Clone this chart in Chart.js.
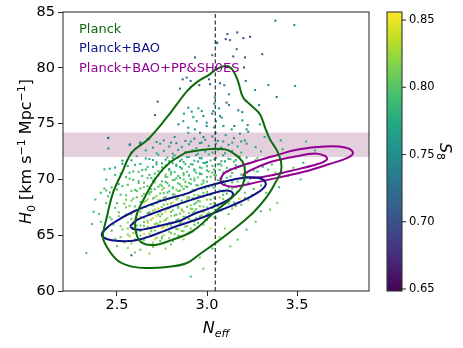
<!DOCTYPE html>
<html>
<head>
<meta charset="utf-8">
<script src="https://cdn.jsdelivr.net/npm/chart.js@4.4.1/dist/chart.umd.min.js"></script>
<style>
  html, body { margin: 0; padding: 0; background: #fff; }
</style>
</head>
<body>
<canvas id="neff-h0-chart" width="463" height="348"></canvas>
<script>
// Axis limits and ticks
const neffRange = [2.2, 3.9];
const h0Range = [60, 85];
const s8Range = [0.6485, 0.856];
const neffTicks = [2.5, 3.0, 3.5];
const h0Ticks = [60, 65, 70, 75, 80, 85];
const s8Ticks = [0.65, 0.70, 0.75, 0.80, 0.85];

// Reference lines
const neffStandard = 3.046;
const shoesBand = [72.0, 74.2];

const legendLabels = ['Planck', 'Planck+BAO', 'Planck+BAO+PP&SH0ES'];

// Contours [Neff, H0]
const planck95 = [[3.044,79.80],[3.10,80.16],[3.139,79.89],[3.172,78.81],[3.20,77.37],[3.25,76.56],[3.294,75.84],[3.322,74.67],[3.35,73.59],[3.389,72.58],[3.411,71.60],[3.411,70.70],[3.383,69.80],[3.333,68.45],[3.256,67.01],[3.144,65.48],[3.056,64.40],[2.961,63.32],[2.889,62.51],[2.778,62.15],[2.667,62.06],[2.572,62.23],[2.50,62.78],[2.444,63.95],[2.422,64.85],[2.444,66.65],[2.478,68.81],[2.528,70.61],[2.583,72.42],[2.672,73.59],[2.778,75.57],[2.833,76.74],[2.889,77.91],[2.944,78.72],[3.017,79.44],[3.044,79.80]];
const planck68 = [[2.883,72.41],[2.989,72.69],[3.10,72.69],[3.156,72.23],[3.20,71.51],[3.211,70.61],[3.194,69.35],[3.144,68.45],[3.044,67.10],[2.922,65.39],[2.806,64.58],[2.711,64.13],[2.639,64.31],[2.606,65.21],[2.606,66.65],[2.656,68.45],[2.722,70.26],[2.794,71.51],[2.883,72.41]];
const bao95 = [[2.415,65.2],[2.47,66.0],[2.59,67.1],[2.74,68.05],[2.89,68.75],[2.96,69.2],[3.05,69.6],[3.15,70.0],[3.24,70.2],[3.31,70.0],[3.325,69.45],[3.27,68.7],[3.18,67.95],[3.07,67.2],[2.96,66.5],[2.83,65.8],[2.70,65.0],[2.59,64.5],[2.47,64.55],[2.42,64.85],[2.415,65.2]];
const bao68 = [[2.572,65.8],[2.61,66.35],[2.70,66.95],[2.80,67.55],[2.90,68.1],[3.00,68.6],[3.08,68.95],[3.13,68.95],[3.145,68.6],[3.11,68.1],[3.02,67.45],[2.92,66.85],[2.85,66.3],[2.74,65.85],[2.64,65.5],[2.59,65.55],[2.572,65.8]];
const shoes95 = [[3.072,69.98],[3.10,70.61],[3.211,71.33],[3.361,72.05],[3.506,72.68],[3.656,72.95],[3.767,72.86],[3.811,72.41],[3.783,71.96],[3.672,71.33],[3.544,70.70],[3.394,70.16],[3.267,69.71],[3.156,69.35],[3.089,69.53],[3.072,69.98]];
const shoes68 = [[3.20,70.43],[3.25,70.88],[3.361,71.60],[3.489,72.05],[3.60,72.32],[3.655,72.1],[3.667,71.8],[3.62,71.4],[3.45,70.70],[3.322,70.25],[3.228,70.16],[3.20,70.43]];

// Chain samples [Neff, H0, S8]
const haloSamples = [[3.38,84.22,.73],[3.485,83.83,.75],[3.168,83.17,.70],[3.113,83.02,.71],[3.104,82.57,.70],[3.128,82.48,.72],[3.202,82.66,.70],[3.239,82.78,.69],[3.057,82.21,.72],[3.165,81.67,.72],[3.307,81.22,.71],[3.146,81.02,.71],[3.211,80.93,.70],[3.029,81.13,.73],[3.206,80.03,.70],[3.215,78.82,.74],[3.341,78.46,.75],[3.489,78.37,.77],[3.011,78.97,.72],[3.017,78.53,.71],[3.072,78.62,.72],[3.096,78.44,.72],[3.267,78.01,.75],[3.122,77.63,.75],[3.387,77.38,.73],[3.109,76.88,.72],[3.122,76.66,.74],[3.289,76.66,.75],[3.067,76.37,.75],[3.174,76.19,.74],[3.196,76.03,.74],[3.029,75.89,.73],[3.072,75.67,.75],[3.04,76.79,.74],[3.035,76.12,.75],[3.082,75.53,.76],[3.196,75.29,.75],[3.294,74.93,.77],[3.226,74.87,.76],[3.152,74.78,.74],[3.091,74.78,.75],[2.998,75.08,.74],[2.998,74.78,.75],[3.137,74.48,.76],[3.22,74.48,.75],[3.048,74.18,.74],[3.183,74.09,.76],[3.229,74.27,.75],[3.104,73.97,.76],[2.933,80.93,.72],[2.887,79.13,.72],[2.909,78.82,.71],[2.957,78.44,.70],[2.726,76.97,.71],[2.711,75.76,.72],[2.896,76.43,.75],[2.872,75.89,.76],[2.915,76.07,.75],[2.952,76.37,.76],[2.971,76.12,.75],[2.98,75.67,.74],[2.924,75.58,.76],[2.868,75.22,.76],[2.841,74.93,.74],[2.943,75.22,.76],[2.896,74.63,.75],[2.933,74.48,.76],[2.961,74.18,.74],[2.896,74.18,.77],[2.98,73.79,.75],[2.865,78.97,.72],[2.85,78.14,.73],[2.452,73.73,.73],[2.572,73.13,.74],[2.628,73.28,.74],[2.674,73.58,.75],[3.054,82.27,.72],[3.044,77.36,.74],[3.05,75.2,.75],[3.039,74.66,.76]];

const bandSamples = [[2.68,73.7,.75],[2.76,73.5,.76],[2.82,73.8,.75],[2.88,73.45,.76],[2.93,73.65,.74],[2.99,73.55,.76],[3.03,73.85,.75],[3.09,73.4,.77],[3.15,73.7,.75],[3.21,73.5,.76],
[2.72,73.35,.76],[2.80,73.3,.75],[2.91,73.4,.77],[2.96,73.25,.76],[3.06,73.45,.75],[3.14,73.3,.77],[3.19,73.4,.76],
[2.63,73.1,.75],[2.70,72.85,.76],[2.74,73.2,.77],[2.79,72.95,.76],[2.83,73.25,.75],[2.86,72.9,.77],[2.90,73.15,.76],[2.94,72.8,.78],[2.97,73.3,.75],[3.01,73.0,.77],[3.05,73.2,.76],[3.08,72.85,.77],[3.12,73.1,.76],[3.17,72.95,.78],[3.22,73.2,.76],[3.27,72.9,.77],
[2.58,72.4,.77],[2.66,72.6,.76],[2.72,72.35,.78],[2.76,72.55,.77],[2.81,72.3,.78],[2.84,72.65,.76],[2.88,72.45,.78],[2.92,72.6,.77],[2.95,72.3,.79],[2.99,72.5,.77],[3.03,72.4,.78],[3.06,72.65,.76],[3.10,72.35,.78],[3.14,72.55,.77],[3.19,72.4,.79],[3.30,72.5,.78],
[2.452,72.77,.74],[2.61,72.08,.78],[2.68,71.83,.77],[2.73,72.21,.78],[2.78,71.96,.79],[2.82,72.13,.77],[2.86,71.78,.78],[2.90,72.02,.79],[2.94,72.18,.78],[2.97,71.89,.77],[3.01,72.24,.79],[3.05,71.93,.78],[3.09,72.15,.77],[3.13,71.81,.79],[3.18,72.05,.78]];

const coreSamples = [[2.58,71.71,.765],[2.66,71.88,.77],[2.72,71.53,.78],[2.77,71.77,.77],[2.81,71.93,.765],[2.85,71.64,.78],[2.89,71.99,.77],[2.93,71.68,.78],[2.96,71.90,.765],[3.00,71.56,.77],[3.04,71.80,.78],[3.08,71.62,.77],[3.12,71.85,.765],[3.16,71.73,.78],[3.22,71.95,.77],
[2.53,71.68,.765],[2.63,71.39,.77],[2.70,71.74,.78],[2.75,71.43,.77],[2.79,71.65,.79],[2.83,71.31,.77],[2.87,71.55,.78],[2.91,71.37,.79],[2.95,71.60,.77],[2.98,71.48,.78],[3.02,71.70,.79],[3.06,71.35,.78],[3.10,71.62,.77],[3.15,71.58,.79],[3.20,71.33,.78],[3.27,71.71,.77],
[2.49,71.06,.77],[2.60,71.30,.78],[2.67,71.12,.79],[2.72,71.35,.78],[2.77,71.23,.77],[2.81,71.45,.79],[2.85,71.10,.78],[2.88,71.37,.795],[2.92,71.33,.78],[2.96,71.08,.79],[2.99,71.46,.77],[3.03,71.21,.79],[3.07,71.38,.78],[3.11,71.03,.795],[3.16,71.27,.78],[3.23,71.43,.79],[3.31,71.14,.78],
[2.56,71.20,.78],[2.64,70.85,.79],[2.70,71.12,.78],[2.75,71.08,.795],[2.79,70.83,.79],[2.83,71.21,.78],[2.86,70.96,.795],[2.90,71.13,.79],[2.93,70.78,.78],[2.97,71.02,.795],[3.00,71.18,.79],[3.04,70.89,.78],[3.08,71.24,.795],[3.13,70.93,.79],[3.18,71.15,.78],[3.26,70.81,.79],
[2.46,70.96,.77],[2.59,70.71,.79],[2.66,70.88,.78],[2.71,70.53,.795],[2.75,70.77,.79],[2.79,70.93,.78],[2.82,70.64,.795],[2.86,70.99,.79],[2.89,70.68,.80],[2.93,70.90,.79],[2.96,70.56,.795],[3.00,70.80,.78],[3.03,70.62,.795],[3.07,70.85,.79],[3.11,70.73,.80],[3.16,70.95,.79],[3.22,70.60,.795],[3.34,70.87,.79],
[2.52,70.52,.78],[2.62,70.68,.79],[2.68,70.39,.795],[2.73,70.74,.79],[2.77,70.43,.80],[2.80,70.65,.79],[2.84,70.31,.795],[2.87,70.55,.78],[2.90,70.37,.80],[2.94,70.60,.795],[2.97,70.48,.79],[3.01,70.70,.80],[3.05,70.35,.795],[3.09,70.62,.79],[3.14,70.58,.795],[3.20,70.33,.79],[3.28,70.71,.78],
[2.49,70.40,.79],[2.57,70.06,.795],[2.64,70.30,.79],[2.69,70.12,.80],[2.73,70.35,.795],[2.77,70.23,.79],[2.80,70.45,.80],[2.83,70.10,.795],[2.87,70.37,.81],[2.90,70.33,.79],[2.93,70.08,.80],[2.96,70.46,.795],[3.00,70.21,.79],[3.04,70.38,.80],[3.08,70.03,.795],[3.13,70.27,.79],[3.19,70.43,.80],[3.26,70.14,.795],
[2.44,69.98,.78],[2.55,70.20,.79],[2.62,69.85,.795],[2.67,70.12,.80],[2.71,70.08,.79],[2.75,69.83,.795],[2.78,70.21,.81],[2.82,69.96,.795],[2.85,70.13,.79],[2.88,69.78,.80],[2.91,70.02,.795],[2.95,70.18,.81],[2.98,69.89,.79],[3.02,70.24,.80],[3.06,69.93,.795],[3.11,70.15,.79],[3.17,69.81,.80],[3.24,70.05,.795],[3.32,69.87,.79],
[2.51,69.58,.79],[2.59,69.96,.795],[2.65,69.71,.80],[2.70,69.88,.795],[2.74,69.53,.81],[2.77,69.77,.795],[2.81,69.93,.80],[2.84,69.64,.79],[2.87,69.99,.80],[2.90,69.68,.81],[2.93,69.90,.795],[2.97,69.56,.80],[3.00,69.80,.795],[3.04,69.62,.81],[3.09,69.85,.80],[3.14,69.73,.795],[3.21,69.95,.80],
[2.47,69.28,.79],[2.56,69.52,.795],[2.62,69.68,.80],[2.67,69.39,.795],[2.71,69.74,.81],[2.75,69.43,.80],[2.78,69.65,.795],[2.81,69.31,.81],[2.85,69.55,.80],[2.88,69.37,.82],[2.91,69.60,.795],[2.94,69.48,.80],[2.98,69.70,.81],[3.01,69.35,.795],[3.05,69.62,.80],[3.10,69.58,.795],[3.16,69.33,.80],[3.23,69.71,.795],[3.30,69.46,.79],
[2.43,69.18,.79],[2.53,69.40,.795],[2.60,69.06,.80],[2.65,69.30,.81],[2.69,69.12,.80],[2.73,69.35,.795],[2.76,69.23,.81],[2.79,69.45,.80],[2.83,69.10,.82],[2.86,69.37,.80],[2.89,69.33,.795],[2.92,69.08,.81],[2.95,69.46,.80],[2.99,69.21,.795],[3.03,69.38,.81],[3.07,69.03,.80],[3.12,69.27,.795],[3.18,69.43,.80],[3.26,69.14,.795],
[2.50,69.10,.795],[2.58,68.98,.80],[2.63,69.20,.795],[2.68,68.85,.81],[2.71,69.12,.80],[2.75,69.08,.82],[2.78,68.83,.80],[2.81,69.21,.795],[2.84,68.96,.81],[2.87,69.13,.80],[2.90,68.78,.82],[2.93,69.02,.80],[2.97,69.18,.795],[3.00,68.89,.81],[3.04,69.24,.80],[3.09,68.93,.795],[3.14,69.15,.81],[3.21,68.81,.80],
[2.46,68.83,.79],[2.55,68.58,.80],[2.61,68.96,.795],[2.65,68.71,.81],[2.69,68.88,.80],[2.72,68.53,.82],[2.76,68.77,.80],[2.79,68.93,.795],[2.82,68.64,.81],[2.85,68.99,.80],[2.88,68.68,.82],[2.91,68.90,.80],[2.95,68.56,.81],[2.98,68.80,.795],[3.02,68.62,.81],[3.06,68.85,.80],[3.11,68.73,.795],[3.17,68.95,.81],[3.25,68.60,.80],
[2.52,68.63,.795],[2.59,68.28,.80],[2.64,68.52,.81],[2.68,68.68,.80],[2.71,68.39,.82],[2.74,68.74,.80],[2.77,68.43,.81],[2.81,68.65,.795],[2.84,68.31,.82],[2.87,68.55,.81],[2.90,68.37,.80],[2.93,68.60,.82],[2.96,68.48,.80],[3.00,68.70,.81],[3.04,68.35,.80],[3.09,68.62,.795],[3.14,68.58,.81],[3.21,68.33,.80],
[2.45,68.49,.795],[2.55,68.18,.81],[2.61,68.40,.80],[2.66,68.06,.82],[2.70,68.30,.80],[2.73,68.12,.81],[2.76,68.35,.80],[2.79,68.23,.82],[2.82,68.45,.81],[2.86,68.10,.80],[2.89,68.37,.82],[2.92,68.33,.81],[2.95,68.08,.80],[2.98,68.46,.81],[3.02,68.21,.80],[3.07,68.38,.82],[3.12,68.03,.80],[3.18,68.27,.81],
[2.50,67.87,.80],[2.58,68.10,.81],[2.63,67.98,.80],[2.67,68.20,.82],[2.71,67.85,.81],[2.74,68.12,.80],[2.77,68.08,.82],[2.80,67.83,.81],[2.83,68.21,.80],[2.86,67.96,.82],[2.89,68.13,.81],[2.93,67.78,.80],[2.96,68.02,.81],[3.00,68.18,.82],[3.04,67.89,.80],[3.09,68.24,.81],[3.15,67.93,.80],[3.23,68.15,.81]];

const lowerSamples = [[2.44,67.87,.795],[2.54,67.83,.81],[2.60,67.58,.80],[2.65,67.96,.82],[2.69,67.71,.81],[2.72,67.88,.80],[2.75,67.53,.82],[2.78,67.77,.81],[2.81,67.93,.84],[2.84,67.64,.80],[2.88,67.99,.81],[2.91,67.68,.82],[2.94,67.90,.80],[2.98,67.56,.81],[3.02,67.80,.80],[3.06,67.62,.82],[3.12,67.85,.81],[3.19,67.73,.80],
[2.49,67.46,.80],[2.57,67.63,.81],[2.62,67.28,.82],[2.66,67.52,.80],[2.70,67.68,.81],[2.73,67.39,.84],[2.76,67.74,.81],[2.79,67.43,.80],[2.83,67.65,.82],[2.86,67.31,.81],[2.89,67.55,.80],[2.92,67.37,.82],[2.96,67.60,.81],[3.00,67.48,.80],[3.04,67.70,.82],[3.09,67.35,.81],[3.16,67.62,.80],
[2.45,67.14,.80],[2.55,67.49,.81],[2.60,67.18,.82],[2.64,67.40,.81],[2.68,67.06,.80],[2.71,67.30,.82],[2.74,67.12,.81],[2.78,67.35,.84],[2.81,67.23,.81],[2.84,67.45,.80],[2.87,67.10,.82],[2.91,67.37,.81],[2.94,67.33,.80],[2.98,67.08,.82],[3.03,67.46,.81],[3.08,67.21,.80],[3.14,67.38,.81],
[2.51,67.05,.80],[2.58,66.87,.82],[2.63,67.10,.81],[2.67,66.98,.80],[2.70,67.20,.82],[2.73,66.85,.81],[2.77,67.12,.84],[2.80,67.08,.81],[2.83,66.83,.80],[2.86,67.21,.82],[2.90,66.96,.81],[2.93,67.13,.80],[2.97,66.78,.82],[3.01,67.02,.81],[3.06,67.18,.80],[3.12,66.89,.81],
[2.46,66.60,.80],[2.55,66.87,.81],[2.61,66.83,.82],[2.65,66.58,.81],[2.68,66.96,.80],[2.72,66.71,.84],[2.75,66.88,.81],[2.78,66.53,.82],[2.82,66.77,.80],[2.85,66.93,.81],[2.88,66.64,.82],[2.92,66.99,.81],[2.96,66.68,.80],[3.00,66.90,.82],[3.05,66.56,.81],
[2.51,66.71,.81],[2.58,66.46,.80],[2.63,66.63,.82],[2.67,66.28,.81],[2.70,66.52,.84],[2.74,66.68,.81],[2.77,66.39,.80],[2.80,66.74,.82],[2.84,66.43,.81],[2.87,66.65,.80],[2.91,66.31,.82],[2.94,66.55,.81],[2.99,66.37,.80],[3.04,66.60,.81],
[2.47,66.43,.80],[2.56,66.14,.82],[2.61,66.49,.81],[2.65,66.18,.80],[2.69,66.40,.82],[2.72,66.06,.81],[2.76,66.30,.84],[2.79,66.12,.81],[2.83,66.35,.80],[2.86,66.23,.82],[2.90,66.45,.81],[2.95,66.10,.80],[3.00,66.37,.82],
[2.52,65.81,.81],[2.59,66.05,.82],[2.63,65.87,.80],[2.67,66.10,.84],[2.71,65.98,.81],[2.74,66.20,.80],[2.78,65.85,.82],[2.81,66.12,.81],[2.85,66.08,.80],[2.89,65.83,.82],[2.93,66.21,.81],[2.98,65.96,.80],
[2.48,65.95,.80],[2.56,65.60,.82],[2.61,65.87,.81],[2.65,65.83,.80],[2.69,65.58,.82],[2.73,65.96,.81],[2.76,65.71,.84],[2.80,65.88,.80],[2.84,65.53,.82],[2.88,65.77,.81],[2.93,65.93,.80],
[2.53,65.52,.81],[2.59,65.68,.82],[2.63,65.39,.80],[2.67,65.74,.82],[2.71,65.43,.81],[2.75,65.65,.84],[2.79,65.31,.81],[2.83,65.55,.80],[2.87,65.37,.82],[2.91,65.60,.81],
[2.47,65.40,.80],[2.56,65.06,.82],[2.61,65.30,.81],[2.65,65.12,.84],[2.69,65.35,.81],[2.73,65.23,.80],[2.77,65.45,.82],[2.82,65.10,.81],[2.86,65.37,.80],[2.92,65.33,.82],
[2.52,64.83,.81],[2.59,65.21,.82],[2.63,64.96,.80],[2.68,65.13,.82],[2.72,64.78,.81],[2.76,65.02,.84],[2.80,65.18,.81],[2.85,64.89,.80],[2.90,65.24,.82],
[2.49,64.68,.81],[2.57,64.90,.82],[2.62,64.56,.81],[2.66,64.80,.80],[2.71,64.62,.84],[2.75,64.85,.81],[2.79,64.73,.82],[2.84,64.95,.80],
[2.54,64.35,.82],[2.60,64.62,.81],[2.65,64.58,.80],[2.70,64.33,.82],[2.75,64.71,.81],[2.81,64.46,.80],[2.87,64.63,.82],
[2.50,64.03,.81],[2.58,64.27,.82],[2.64,64.43,.81],[2.69,64.14,.84],[2.74,64.49,.80],[2.80,64.18,.81],
[2.56,63.85,.82],[2.63,63.70,.80],[2.70,63.95,.81],[2.77,63.80,.82],[2.60,63.45,.81],[2.68,63.35,.82],
[2.33,63.4,.80],[2.91,61.3,.80],[2.58,63.2,.70],[2.40,66.9,.80],[2.38,68.2,.79],[2.43,70.9,.78],[2.36,66.0,.79]];

const edgeSamples = [[3.39,67.9,.81],[3.30,67.15,.80],[3.35,67.3,.81],[3.17,64.6,.80],[3.10,65.6,.82],[3.18,68.3,.85],[3.02,65.6,.85],[3.27,66.2,.81],[3.22,65.5,.80],[3.13,64.0,.81],[3.07,64.8,.82],[3.33,68.8,.80],[3.25,66.9,.82],[3.40,69.3,.79],[2.96,63.0,.81],[3.03,63.8,.80],[3.05,62.6,.80],[2.98,62.0,.81],
[3.36,71.33,.79],[3.48,71.04,.80],[3.535,71.5,.78],[3.55,73.4,.79],[3.42,72.7,.78],[3.60,72.6,.79],[3.28,71.9,.80],[3.45,70.3,.80],[3.38,70.6,.81],[3.52,70.0,.80],[3.32,73.8,.77],[3.41,73.5,.77],
[2.41,68.8,.79],[2.44,69.0,.80],[2.37,67.1,.79],[2.41,66.2,.80],[2.57,70.6,.79],[2.53,71.4,.77],[2.45,73.7,.73],[2.57,73.1,.74],[2.63,73.3,.74],[2.67,73.6,.75]];

// viridis colormap, sampled at tenths
const viridisStops = [[68,1,84],[72,36,117],[65,68,135],[53,95,141],[42,120,142],[33,145,140],[34,168,132],[68,191,112],[122,209,81],[189,223,38],[253,231,37]];

function viridis(t) {
  t = Math.min(1, Math.max(0, t));
  const pos = t * (viridisStops.length - 1);
  const i = Math.min(Math.floor(pos), viridisStops.length - 2);
  const f = pos - i;
  const a = viridisStops[i], b = viridisStops[i + 1];
  const c = a.map((v, k) => Math.round(v + (b[k] - v) * f));
  return 'rgb(' + c.join(',') + ')';
}

const lineColors = ['#0b6b0b', '#101088', '#930093'];
const allSamples = haloSamples.concat(bandSamples, coreSamples, lowerSamples, edgeSamples);

function toPoints(list) {
  return list.map(p => ({ x: p[0], y: p[1] }));
}

function contour(label, list, color) {
  return {
    type: 'line',
    label: label,
    data: toPoints(list),
    borderColor: color,
    borderWidth: 2,
    tension: 0.4,
    pointRadius: 0,
    pointHoverRadius: 0,
    fill: false,
    order: 1
  };
}

// Text with sub/superscript pieces: [text, font, dy]
function drawRich(ctx, parts, cx, cy) {
  let total = 0;
  parts.forEach(p => { ctx.font = p[1]; total += ctx.measureText(p[0]).width; });
  let x = cx - total / 2;
  ctx.textAlign = 'left';
  ctx.textBaseline = 'alphabetic';
  parts.forEach(p => {
    ctx.font = p[1];
    ctx.fillText(p[0], x, cy + p[2]);
    x += ctx.measureText(p[0]).width;
  });
}

const FONT = '"DejaVu Sans", sans-serif';

const decorations = {
  id: 'decorations',
  afterDatasetsDraw(chart) {
    const ctx = chart.ctx;
    const a = chart.chartArea;
    ctx.save();
    ctx.strokeStyle = '#333';
    ctx.lineWidth = 1.1;
    ctx.strokeRect(a.left, a.top, a.right - a.left, a.bottom - a.top);

    ctx.font = '13px ' + FONT;
    ctx.textAlign = 'left';
    ctx.textBaseline = 'alphabetic';
    legendLabels.forEach((t, i) => {
      ctx.fillStyle = lineColors[i];
      ctx.fillText(t, a.left + 16, a.top + 21 + i * 19.3);
    });
    ctx.restore();
  },
  afterDraw(chart) {
    const ctx = chart.ctx;
    const a = chart.chartArea;
    const s = chart.scales.s8;
    ctx.save();

    // colorbar
    const yTop = s.getPixelForValue(s8Range[1]);
    const yBot = s.getPixelForValue(s8Range[0]);
    const x0 = a.right + 18, w = 15;
    const g = ctx.createLinearGradient(0, yBot, 0, yTop);
    viridisStops.forEach((c, i) => g.addColorStop(i / (viridisStops.length - 1), 'rgb(' + c.join(',') + ')'));
    ctx.fillStyle = g;
    ctx.fillRect(x0, yTop, w, yBot - yTop);
    ctx.strokeStyle = '#333';
    ctx.lineWidth = 1.1;
    ctx.strokeRect(x0, yTop, w, yBot - yTop);
    ctx.fillStyle = '#000';
    ctx.font = '11.5px ' + FONT;
    ctx.textAlign = 'left';
    ctx.textBaseline = 'middle';
    s8Ticks.forEach(v => {
      const y = s.getPixelForValue(v);
      ctx.beginPath();
      ctx.moveTo(x0 + w, y);
      ctx.lineTo(x0 + w + 4, y);
      ctx.stroke();
      ctx.fillText(v.toFixed(2), x0 + w + 7, y);
    });

    // colorbar label
    ctx.save();
    ctx.translate(a.right + 71, (a.top + a.bottom) / 2);
    ctx.rotate(Math.PI / 2);
    drawRich(ctx, [['S', 'italic 16px ' + FONT, 0], ['8', '11px ' + FONT, 3.5]], 0, 0);
    ctx.restore();

    // y axis title
    ctx.save();
    ctx.translate(31, (a.top + a.bottom) / 2);
    ctx.rotate(-Math.PI / 2);
    drawRich(ctx, [
      ['H', 'italic 16px ' + FONT, 0],
      ['0', '11px ' + FONT, 3.5],
      [' [km s', '16px ' + FONT, 0],
      ['\u22121', '11px ' + FONT, -6.5],
      [' Mpc', '16px ' + FONT, 0],
      ['\u22121', '11px ' + FONT, -6.5],
      [']', '16px ' + FONT, 0]
    ], 0, 0);
    ctx.restore();

    // x axis title
    drawRich(ctx, [['N', 'italic 16px ' + FONT, 0], ['eff', 'italic 11px ' + FONT, 3.5]], (a.left + a.right) / 2, 333);
    ctx.restore();
  }
};

Chart.defaults.font.family = FONT;
Chart.defaults.color = '#000';

new Chart(document.getElementById('neff-h0-chart'), {
  type: 'scatter',
  data: {
    datasets: [
      {
        type: 'line', label: 'band low',
        data: [{ x: neffRange[0], y: shoesBand[0] }, { x: neffRange[1], y: shoesBand[0] }],
        borderColor: 'transparent', pointRadius: 0, fill: false, order: 10
      },
      {
        type: 'line', label: 'band high',
        data: [{ x: neffRange[0], y: shoesBand[1] }, { x: neffRange[1], y: shoesBand[1] }],
        borderColor: 'transparent', backgroundColor: '#e4d0dc', pointRadius: 0, fill: '-1', order: 10
      },
      {
        type: 'scatter', label: 'samples',
        data: toPoints(allSamples),
        pointBackgroundColor: allSamples.map(p => viridis((p[2] - s8Range[0]) / (s8Range[1] - s8Range[0]))),
        pointBorderWidth: 0,
        pointRadius: 1.45,
        pointStyle: 'rect',
        order: 8
      },
      {
        type: 'line', label: 'Neff = 3.046',
        data: [{ x: neffStandard, y: h0Range[0] }, { x: neffStandard, y: h0Range[1] }],
        borderColor: '#222', borderWidth: 1.1, borderDash: [4, 2.5], pointRadius: 0, fill: false, order: 6
      },
      contour(legendLabels[0], planck95, lineColors[0]),
      contour(legendLabels[0], planck68, lineColors[0]),
      contour(legendLabels[1], bao95, lineColors[1]),
      contour(legendLabels[1], bao68, lineColors[1]),
      contour(legendLabels[2], shoes95, lineColors[2]),
      contour(legendLabels[2], shoes68, lineColors[2])
    ]
  },
  options: {
    responsive: false,
    devicePixelRatio: 1,
    animation: false,
    events: [],
    layout: { padding: { left: 0, top: 12, right: 94, bottom: 0 } },
    plugins: {
      legend: { display: false },
      tooltip: { enabled: false },
      filler: { drawTime: 'beforeDatasetsDraw' }
    },
    scales: {
      x: {
        type: 'linear',
        min: neffRange[0],
        max: neffRange[1],
        afterBuildTicks: axis => { axis.ticks = neffTicks.map(v => ({ value: v })); },
        afterFit: axis => { axis.height = 57; },
        ticks: {
          callback: v => v.toFixed(1),
          font: { size: 14.5, lineHeight: 1 },
          color: '#000',
          padding: 2,
          maxRotation: 0
        },
        grid: { drawOnChartArea: false, drawTicks: true, tickLength: 5, color: '#222' },
        border: { display: false }
      },
      y: {
        type: 'linear',
        min: h0Range[0],
        max: h0Range[1],
        afterBuildTicks: axis => { axis.ticks = h0Ticks.map(v => ({ value: v })); },
        afterFit: axis => { axis.width = 63; },
        ticks: {
          font: { size: 14.5, lineHeight: 1 },
          color: '#000',
          padding: 3
        },
        grid: { drawOnChartArea: false, drawTicks: true, tickLength: 5, color: '#222' },
        border: { display: false }
      },
      s8: {
        type: 'linear',
        position: 'right',
        display: false,
        min: s8Range[0],
        max: s8Range[1]
      }
    }
  },
  plugins: [decorations]
});
</script>
</body>
</html>
